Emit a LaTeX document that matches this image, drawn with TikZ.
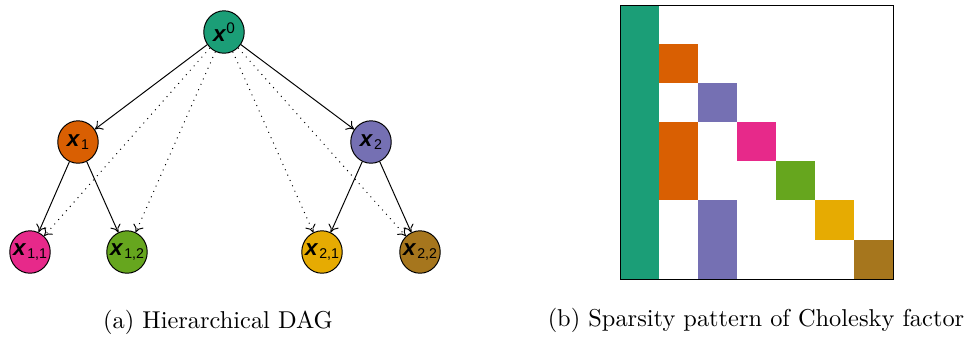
\documentclass[tikz,border=0pt]{standalone}
\usepackage{fontspec}
\newfontfamily\hv{Liberation Sans}
\usetikzlibrary{shapes.geometric,arrows.meta}
\definecolor{dA}{HTML}{1B9E77}
\definecolor{dB}{HTML}{D95F02}
\definecolor{dC}{HTML}{7570B3}
\definecolor{dD}{HTML}{E7298A}
\definecolor{dE}{HTML}{66A61E}
\definecolor{dF}{HTML}{E6AB02}
\definecolor{dG}{HTML}{A6761D}
\newcommand{\vx}{{\fontsize{9.2}{10}\selectfont\textbf{\textit{x}}}}
\newcommand{\vsub}[1]{\raisebox{-1.3pt}{\fontsize{5.8}{7}\selectfont\kern0.4pt#1}}
\newcommand{\vsup}[1]{\raisebox{3.2pt}{\fontsize{6.3}{7}\selectfont #1}}
\newcommand{\vlab}[1]{\makebox[0pt]{#1}}
\begin{document}
\begin{tikzpicture}[x=0.41pt,y=-0.41pt,
  vnode/.style={ellipse, draw, line width=0.4pt, minimum width=16.6pt, minimum height=17.4pt, inner sep=0pt, font=\hv},
  sol/.style={-{To[length=3pt,width=4.5pt]}, line width=0.4pt},
  dot/.style={-{To[length=3pt,width=4.5pt]}, line width=0.4pt, dotted},
  cell/.style={draw=none}]
\useasboundingbox (0,0) rectangle (967,337);
% DAG
\node[vnode, fill=dA] (x0) at (224,32) {\vlab{\vx\vsup{0}}};
\node[vnode, fill=dB] (x1) at (78,142) {\vlab{\vx\vsub{1}}};
\node[vnode, fill=dC] (x2) at (371,142) {\vlab{\vx\vsub{2}}};
\node[vnode, fill=dD] (x11) at (30,252) {\vlab{\vx\vsub{1,1}}};
\node[vnode, fill=dE] (x12) at (127,252) {\vlab{\vx\vsub{1,2}}};
\node[vnode, fill=dF] (x21) at (322,252) {\vlab{\vx\vsub{2,1}}};
\node[vnode, fill=dG] (x22) at (420,252) {\vlab{\vx\vsub{2,2}}};
\draw[sol] (x0) -- (x1);
\draw[sol] (x0) -- (x2);
\draw[sol] (x1) -- (x11);
\draw[sol] (x1) -- (x12);
\draw[sol] (x2) -- (x21);
\draw[sol] (x2) -- (x22);
\draw[dot] (x0) -- (x11);
\draw[dot] (x0) -- (x12);
\draw[dot] (x0) -- (x21);
\draw[dot] (x0) -- (x22);
% Sparsity pattern
\fill[dA] (620,5) rectangle (659,279);
\fill[dB] (659,44) rectangle (698,83);
\fill[dB] (659,122) rectangle (698,200);
\fill[dC] (698,83) rectangle (737,122);
\fill[dC] (698,200) rectangle (737,279);
\fill[dD] (737,122) rectangle (776,161);
\fill[dE] (776,161) rectangle (815,200);
\fill[dF] (815,200) rectangle (854,240);
\fill[dG] (854,240) rectangle (893,279);
\draw[line width=0.4pt] (620,5) rectangle (893,279);
% captions
\node (capa) at (218,322) {(a) Hierarchical DAG};
\node (capb) at (756,320) {(b) Sparsity pattern of Cholesky factor};
\end{tikzpicture}
\end{document}
